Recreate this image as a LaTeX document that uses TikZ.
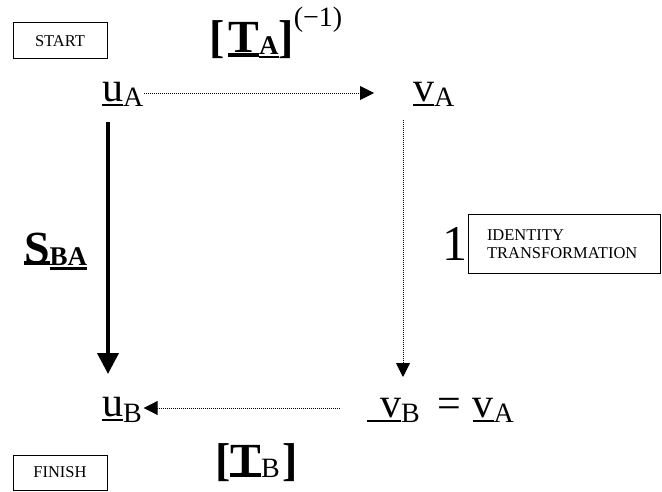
\documentclass[tikz,border=0pt]{standalone}
\usepackage{fontspec}
\setmainfont{Liberation Serif}
\usetikzlibrary{arrows.meta,calc}
\newcommand\myuline[3]{\leavevmode\setbox0\hbox{#3}\rlap{\raisebox{-#2}{\rule{\wd0}{#1}}}\box0}
\newcommand\fs[1]{\fontsize{#1pt}{#1pt}\selectfont}
\newcommand\identfont{\fontsize{16.5pt}{18pt}\selectfont}
\tikzset{
  lbl/.style={anchor=base west, inner sep=0pt, outer sep=0pt},
  smallbox/.style={draw, line width=1pt, inner sep=0pt, font=\identfont},
  dotarrow/.style={line width=0.9pt, dash pattern=on 1pt off 1pt, -{Triangle[length=14pt,width=14pt]}},
  thickarrow/.style={line width=4pt, -{Triangle[length=21pt,width=21pt]}}
}
\begin{document}
\begin{tikzpicture}[x=1pt,y=-1pt]
\useasboundingbox (0,0) rectangle (662,492);
% boxes
\node[smallbox, minimum width=94pt, minimum height=36pt] (start) at (60,41) {START};
\node[smallbox, minimum width=94pt, minimum height=35pt] (finish) at (60,472.5) {FINISH};
\node[smallbox, minimum width=192pt, minimum height=58pt, text width=154pt, inner xsep=19pt, align=left] (ident) at (564,244) {IDENTITY\\TRANSFORMATION};
\node[lbl] (one) at (442,260) {\fs{50}1};
% vectors
\node[lbl] (uA) at (102,102) {\fs{42}\myuline{2pt}{4pt}{u}{\fs{28}\raisebox{-5pt}{A}}};
\node[lbl] (vA) at (413,102) {\fs{42}\myuline{2pt}{4pt}{v}{\fs{28}\raisebox{-5pt}{A}}};
\node[lbl] (uB) at (102,416) {\fs{42}\myuline{2pt}{5pt}{u}{\fs{28}\raisebox{-6pt}{B}}};
\node[lbl] (vB) at (367,417) {\fs{42}\myuline{2pt}{5pt}{\hspace{13pt}v}{\fs{28}\raisebox{-5pt}{B}}};
\node[lbl] (eqvA) at (437,417) {\fs{42}=\hspace{12pt}\myuline{2pt}{5pt}{v}{\fs{28}\raisebox{-5pt}{A}}};
% transformation labels
\node[lbl] (TA) at (209,53) {\fs{46}\bfseries [\hspace{4pt}\myuline{4pt}{4pt}{T}{\fs{27}\raisebox{-2pt}{\myuline{2pt}{3pt}{A}}}]{\mdseries\fs{28}\raisebox{26pt}{(−1)}}};
\node[lbl] (TB) at (215,475) {\fs{46}\bfseries [\myuline{4pt}{2pt}{T}{\mdseries\fs{28}\raisebox{-2pt}{B}}\hspace{3pt}]};
\node[lbl] (SBA) at (24,263) {\fs{46}\bfseries \myuline{4pt}{2pt}{S}{\fs{27}\raisebox{-2pt}{\myuline{3pt}{5pt}{BA}}}};
% connectors
\draw[dotarrow] ($(uA.base east)+(1,-9)$) -- ($(vA.base west)+(-39,-9)$);
\draw[dotarrow] ($(vA.base west)+(-10,18)$) -- ($(vB.base west)+(36,-40)$);
\draw[dotarrow] ($(vB.base west)+(-27,-9)$) -- ($(uB.base east)+(2,-8)$);
\draw[thickarrow] ($(uA.base west)+(6,20)$) -- ($(uB.base west)+(6,-42)$);
\end{tikzpicture}
\end{document}
